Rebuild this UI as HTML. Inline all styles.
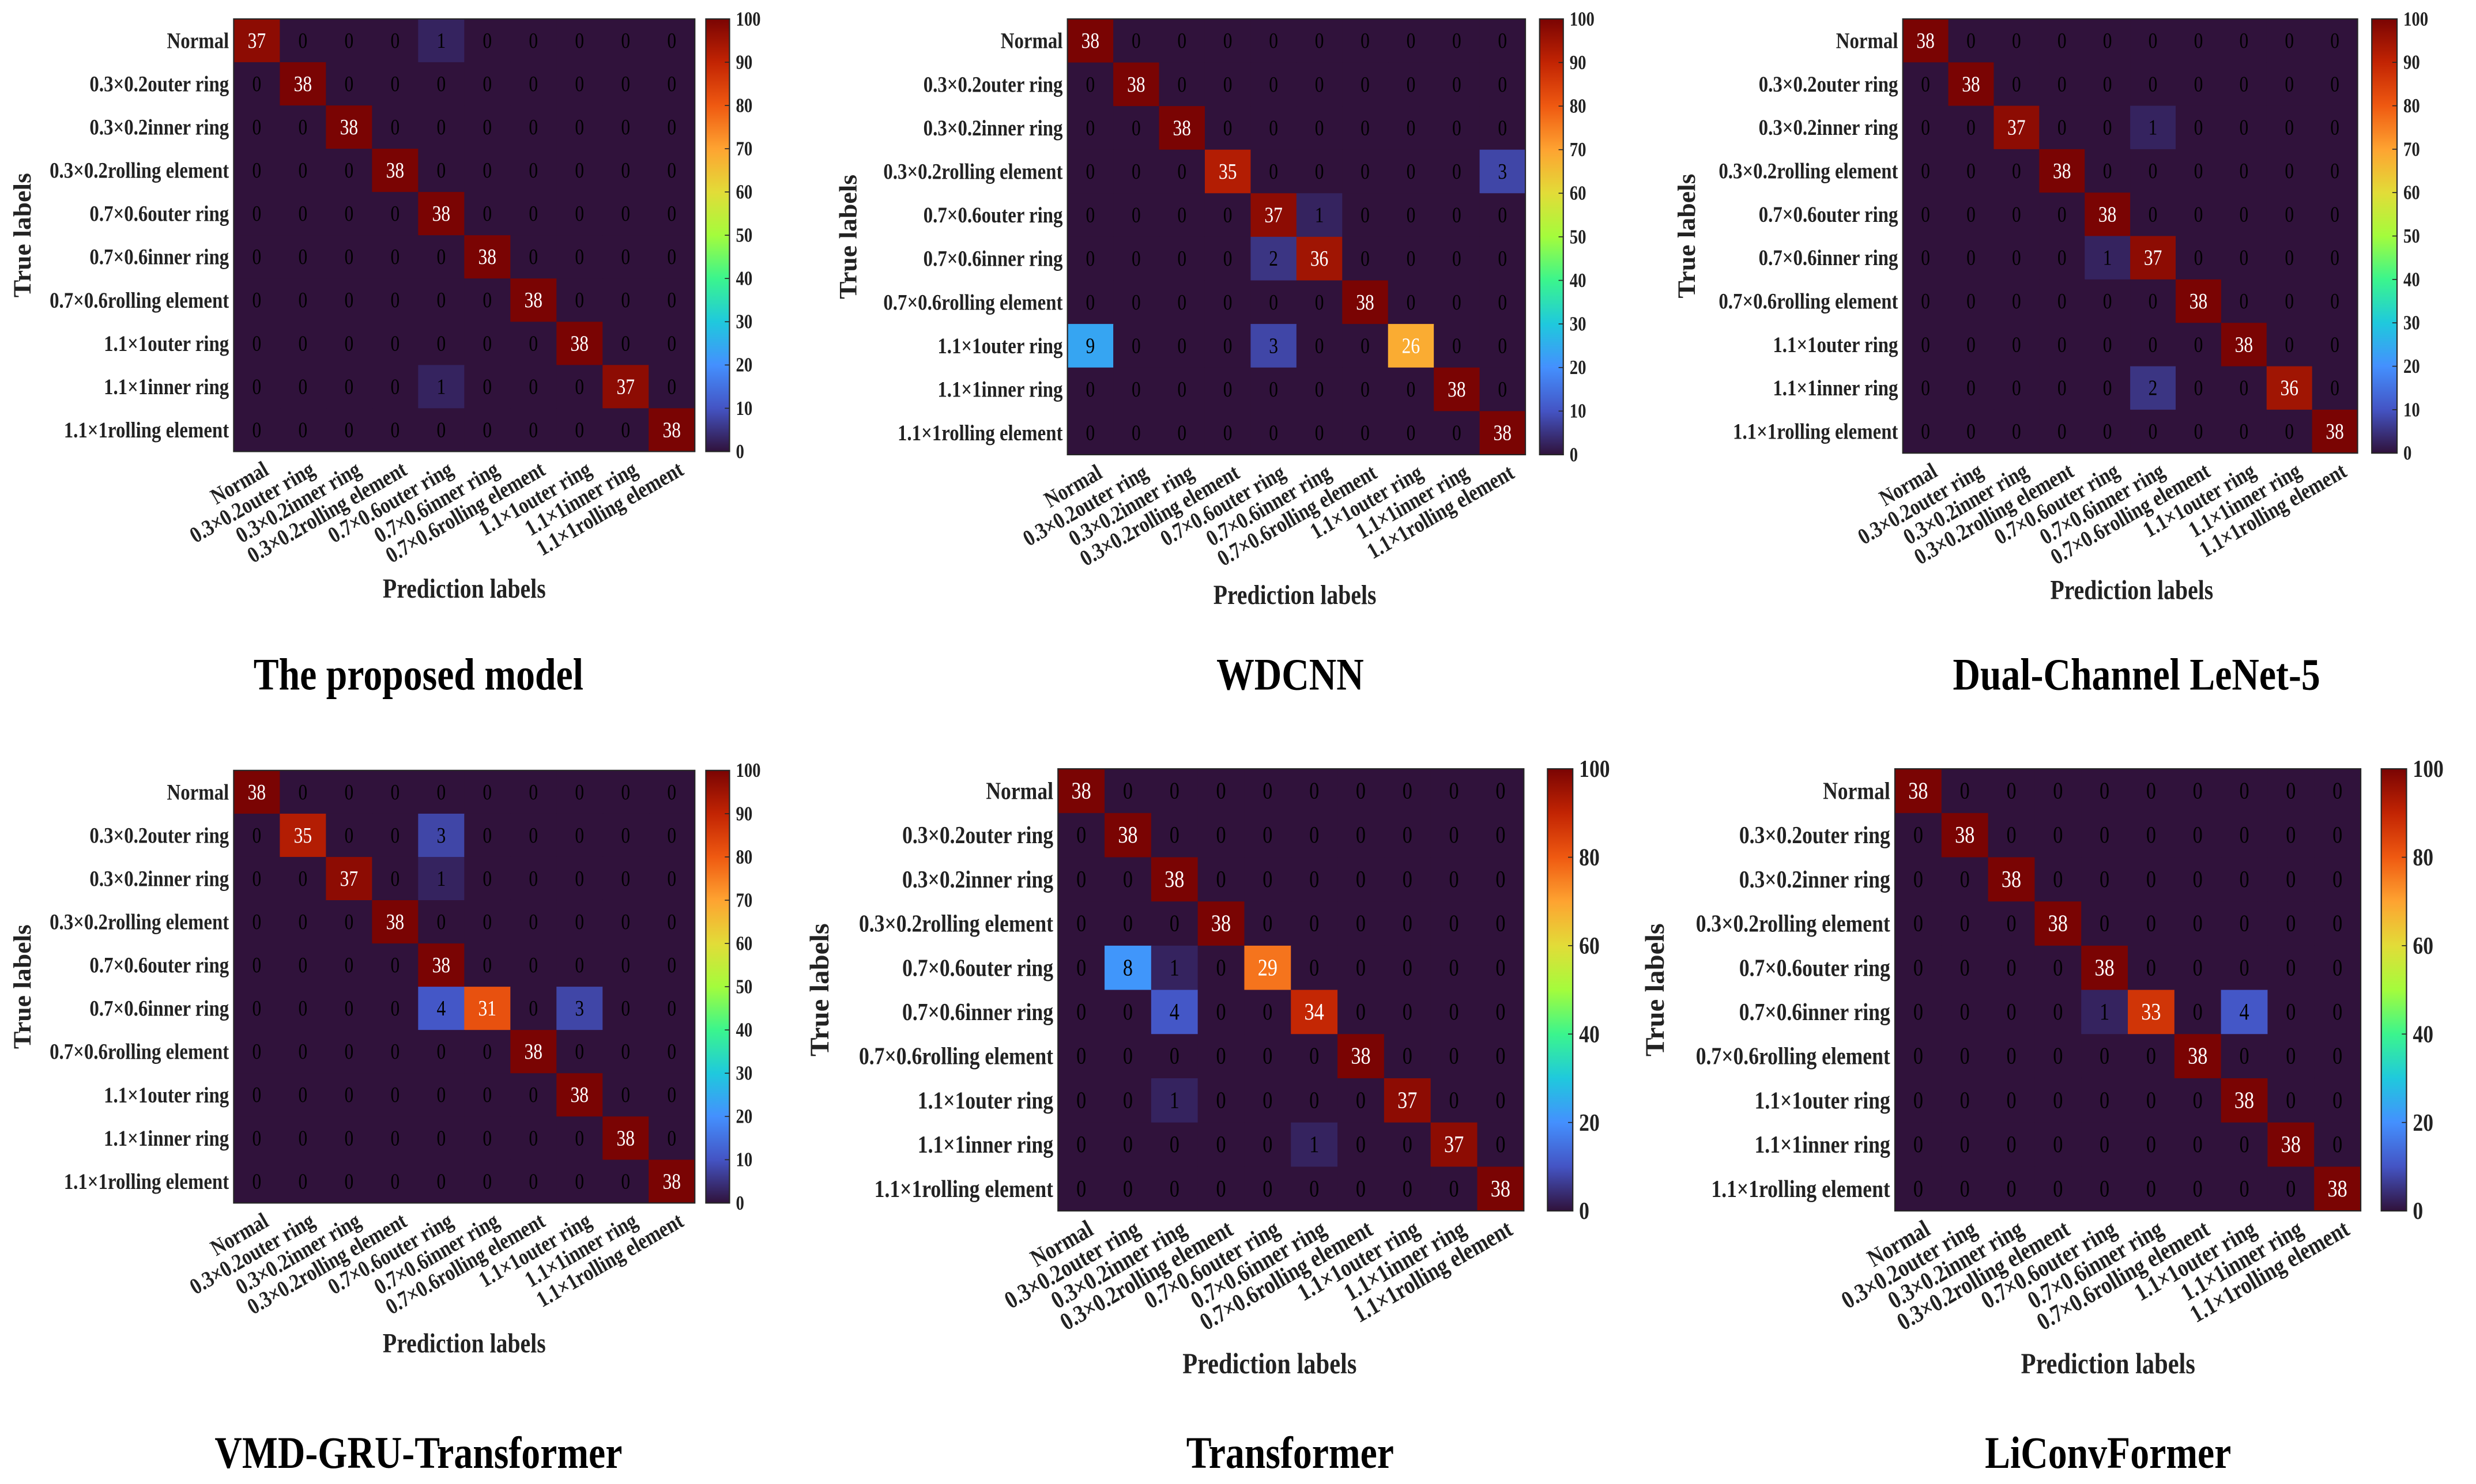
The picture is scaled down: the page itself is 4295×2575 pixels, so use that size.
<!DOCTYPE html>
<html><head><meta charset="utf-8"><style>
html,body{margin:0;padding:0;background:#fff;}
svg{display:block;}
text{font-family:"Liberation Serif",serif;}
</style></head><body>
<svg id="fig" xmlns="http://www.w3.org/2000/svg" width="4295" height="2575" viewBox="0 0 1568 940" preserveAspectRatio="none">
<defs>
<linearGradient id="turbo" x1="0" y1="1" x2="0" y2="0">
<stop offset="0" stop-color="#30123b"/><stop offset="0.1" stop-color="#4454c4"/><stop offset="0.2" stop-color="#4490fe"/><stop offset="0.3" stop-color="#1fc9dd"/><stop offset="0.4" stop-color="#3bf58d"/><stop offset="0.5" stop-color="#a4fc3c"/><stop offset="0.6" stop-color="#e2dc38"/><stop offset="0.7" stop-color="#fea331"/><stop offset="0.8" stop-color="#ef5911"/><stop offset="0.9" stop-color="#c22403"/><stop offset="1" stop-color="#7a0403"/>
</linearGradient>
</defs>
</svg>
<script>
const categories = ["Normal","0.3×0.2outer ring","0.3×0.2inner ring","0.3×0.2rolling element","0.7×0.6outer ring","0.7×0.6inner ring","0.7×0.6rolling element","1.1×1outer ring","1.1×1inner ring","1.1×1rolling element"];
const proposedMatrix = [
[37,0,0,0,1,0,0,0,0,0],[0,38,0,0,0,0,0,0,0,0],[0,0,38,0,0,0,0,0,0,0],[0,0,0,38,0,0,0,0,0,0],[0,0,0,0,38,0,0,0,0,0],
[0,0,0,0,0,38,0,0,0,0],[0,0,0,0,0,0,38,0,0,0],[0,0,0,0,0,0,0,38,0,0],[0,0,0,0,1,0,0,0,37,0],[0,0,0,0,0,0,0,0,0,38]];
const wdcnnMatrix = [
[38,0,0,0,0,0,0,0,0,0],[0,38,0,0,0,0,0,0,0,0],[0,0,38,0,0,0,0,0,0,0],[0,0,0,35,0,0,0,0,0,3],[0,0,0,0,37,1,0,0,0,0],
[0,0,0,0,2,36,0,0,0,0],[0,0,0,0,0,0,38,0,0,0],[9,0,0,0,3,0,0,26,0,0],[0,0,0,0,0,0,0,0,38,0],[0,0,0,0,0,0,0,0,0,38]];
const lenetMatrix = [
[38,0,0,0,0,0,0,0,0,0],[0,38,0,0,0,0,0,0,0,0],[0,0,37,0,0,1,0,0,0,0],[0,0,0,38,0,0,0,0,0,0],[0,0,0,0,38,0,0,0,0,0],
[0,0,0,0,1,37,0,0,0,0],[0,0,0,0,0,0,38,0,0,0],[0,0,0,0,0,0,0,38,0,0],[0,0,0,0,0,2,0,0,36,0],[0,0,0,0,0,0,0,0,0,38]];
const vmdMatrix = [
[38,0,0,0,0,0,0,0,0,0],[0,35,0,0,3,0,0,0,0,0],[0,0,37,0,1,0,0,0,0,0],[0,0,0,38,0,0,0,0,0,0],[0,0,0,0,38,0,0,0,0,0],
[0,0,0,0,4,31,0,3,0,0],[0,0,0,0,0,0,38,0,0,0],[0,0,0,0,0,0,0,38,0,0],[0,0,0,0,0,0,0,0,38,0],[0,0,0,0,0,0,0,0,0,38]];
const transformerMatrix = [
[38,0,0,0,0,0,0,0,0,0],[0,38,0,0,0,0,0,0,0,0],[0,0,38,0,0,0,0,0,0,0],[0,0,0,38,0,0,0,0,0,0],[0,8,1,0,29,0,0,0,0,0],
[0,0,4,0,0,34,0,0,0,0],[0,0,0,0,0,0,38,0,0,0],[0,0,1,0,0,0,0,37,0,0],[0,0,0,0,0,1,0,0,37,0],[0,0,0,0,0,0,0,0,0,38]];
const liconvMatrix = [
[38,0,0,0,0,0,0,0,0,0],[0,38,0,0,0,0,0,0,0,0],[0,0,38,0,0,0,0,0,0,0],[0,0,0,38,0,0,0,0,0,0],[0,0,0,0,38,0,0,0,0,0],
[0,0,0,0,1,33,0,4,0,0],[0,0,0,0,0,0,38,0,0,0],[0,0,0,0,0,0,0,38,0,0],[0,0,0,0,0,0,0,0,38,0],[0,0,0,0,0,0,0,0,0,38]];
const ticksBy10 = [0,10,20,30,40,50,60,70,80,90,100];
const ticksBy20 = [0,20,40,60,80,100];
const titles = ["The proposed model","WDCNN","Dual-Channel LeNet-5","VMD-GRU-Transformer","Transformer","LiConvFormer"];

const stops=[[0x30,0x12,0x3b],[0x44,0x54,0xc4],[0x44,0x90,0xfe],[0x1f,0xc9,0xdd],[0x3b,0xf5,0x8d],[0xa4,0xfc,0x3c],[0xe2,0xdc,0x38],[0xfe,0xa3,0x31],[0xef,0x59,0x11],[0xc2,0x24,0x03],[0x7a,0x04,0x03]];
function turbo(t){t=Math.max(0,Math.min(1,t));const f=t*10;const i=Math.min(9,Math.floor(f));const u=f-i;const a=stops[i],b=stops[i+1];
return 'rgb('+a.map((v,k)=>Math.round(v+(b[k]-v)*u)).join(',')+')';}

const NS="http://www.w3.org/2000/svg";const svg=document.getElementById('fig');
const SY=1.2;
function el(tag,attrs,parent,txt){const e=document.createElementNS(NS,tag);for(const k in attrs)e.setAttribute(k,attrs[k]);if(txt!==undefined)e.textContent=txt;(parent||svg).appendChild(e);return e;}
function stretch(x,y,rot){return 'translate('+x+' '+y+')'+(rot?' rotate('+rot+')':'')+' scale(1 '+SY+') translate('+(-x)+' '+(-y)+')';}

const panels=[
{m:proposedMatrix,x:148,y:12,w:292,h:274,cb:[447,15],tk:ticksBy10,tf:10.5,sans:false,fs:12,tl:14,px:294,py:373,tx:265,ty:427},
{m:wdcnnMatrix,x:676,y:12,w:290,h:276,cb:[975,15],tk:ticksBy10,tf:10.5,sans:false,fs:12,tl:537,px:820,py:377,tx:817,ty:427},
{m:lenetMatrix,x:1205,y:12,w:288,h:275,cb:[1502,16],tk:ticksBy10,tf:10.5,sans:false,fs:12,tl:1068,px:1350,py:374,tx:1353,ty:427},
{m:vmdMatrix,x:148,y:488,w:292,h:274,cb:[447,15],tk:ticksBy10,tf:10.5,sans:false,fs:12,tl:14,px:294,py:851,tx:265,ty:920},
{m:transformerMatrix,x:670,y:487,w:295,h:280,cb:[980,16],tk:ticksBy20,tf:13,sans:true,fs:13,tl:519,px:804,py:864,tx:817,ty:920},
{m:liconvMatrix,x:1200,y:487,w:295,h:280,cb:[1508,16],tk:ticksBy20,tf:13,sans:true,fs:13,tl:1048,px:1335,py:864,tx:1335,ty:920}];

panels.forEach((p,pi)=>{
  const g=el('g',{});
  
  
  const n=categories.length, cw=p.w/n, ch=p.h/n;
  const cx=j=>p.x+cw*(j+0.5), cy=i=>p.y+ch*(i+0.5);
  p.m.forEach((row,i)=>{
    const rowTotal=row.reduce((a,b)=>a+b,0);
    row.forEach((v,j)=>{
      const pct=v/rowTotal;
      const r=el('rect',{x:p.x+cw*j,y:p.y+ch*i,width:cw+0.3,height:ch+0.3,fill:turbo(pct)},g);
      
      
      const t=el('text',{x:cx(j),y:cy(i),'text-anchor':'middle','dominant-baseline':'central','font-size':p.fs-0.5,fill:pct>0.5?'#fff':'#000',transform:stretch(cx(j),cy(i))},g,String(v));
      
      
    });
  });
  const bd=el('rect',{x:p.x,y:p.y,width:p.w,height:p.h,fill:'none',stroke:'#262626','stroke-width':0.8},g);
  
  
  categories.forEach((c,i)=>{
    const t=el('text',{x:p.x-3,y:cy(i),'text-anchor':'end','dominant-baseline':'central','font-size':p.fs,'font-weight':'bold',fill:'#222',transform:stretch(p.x-3,cy(i))},g,c);
    
    
    const ax=cx(i)+6, ay=p.y+p.h+10;
    const u=el('text',{x:ax,y:ay,'text-anchor':'end','dominant-baseline':'central','font-size':p.fs,'font-weight':'bold',fill:'#222',transform:stretch(ax,ay,-30)},g,c);
    
    
  });
  const yc=p.y+p.h/2;
  const yt=el('text',{x:p.tl,y:yc,'text-anchor':'middle','dominant-baseline':'central','font-size':p.fs+2.5,'font-weight':'bold',fill:'#222',transform:'rotate(-90 '+p.tl+' '+yc+') translate('+p.tl+' '+yc+') scale(1.15 1.1) translate('+(-p.tl)+' '+(-yc)+')'},g,'True labels');
  
  
  const xt=el('text',{x:p.px,y:p.py,'text-anchor':'middle','dominant-baseline':'central','font-size':p.fs+2.5,'font-weight':'bold',fill:'#222',transform:stretch(p.px,p.py)},g,'Prediction labels');
  
  
  const ti=el('text',{x:p.tx,y:p.ty,'text-anchor':'middle','dominant-baseline':'central','font-size':24,'font-weight':'bold',fill:'#000',transform:stretch(p.tx,p.ty)},g,titles[pi]);
  
  
  const cbx=p.cb[0], cbw=p.cb[1], cby=p.y, cbh=p.h;
  const cb=el('rect',{x:cbx,y:cby,width:cbw,height:cbh,fill:'url(#turbo)',stroke:'#262626','stroke-width':0.8},g);
  
  
  const cbY=v=>cby+cbh*(1-v/100);
  p.tk.forEach(v=>{
    el('line',{x1:cbx+cbw-3,x2:cbx+cbw,y1:cbY(v),y2:cbY(v),stroke:'#262626','stroke-width':0.6},g);
    const t=el('text',{x:cbx+cbw+4,y:cbY(v),'dominant-baseline':'central','font-size':p.tf,'font-weight':'bold',fill:'#222','font-family':p.sans?'Liberation Sans, sans-serif':'Liberation Serif, serif',transform:stretch(cbx+cbw+4,cbY(v))},g,String(v));
    
    
  });
});
</script>
</body></html>
